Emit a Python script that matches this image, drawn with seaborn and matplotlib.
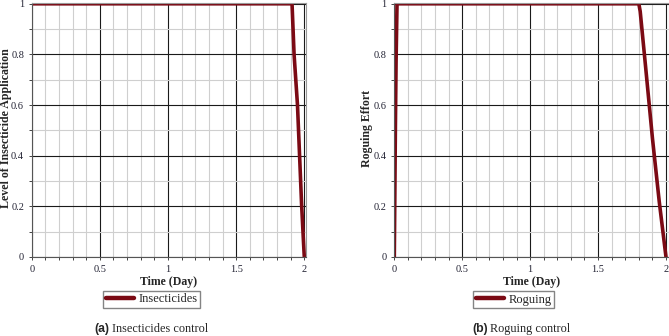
import numpy as np
import pandas as pd
import matplotlib
matplotlib.use("Agg")
import matplotlib.pyplot as plt
from matplotlib.ticker import MultipleLocator
import seaborn as sns

# Data
t_ins = [0.0, 0.5, 1.0, 1.5, 1.91, 1.925, 1.95, 1.98, 1.995, 2.0]
u_ins = [1.0, 1.0, 1.0, 1.0, 1.0, 0.8, 0.6, 0.21, 0.05, 0.0]
t_rog = [0.0, 0.004, 0.008, 0.013, 0.02, 0.5, 1.0, 1.5, 1.8, 1.81, 1.85, 1.9, 1.95, 2.0]
u_rog = [0.0, 0.25, 0.51, 0.77, 1.0, 1.0, 1.0, 1.0, 1.0, 0.97, 0.75, 0.47, 0.22, 0.0]

xticks = [0, 0.5, 1, 1.5, 2]
xtick_labels = ["0", "0.5", "1", "1.5", "2"]
yticks = [0, 0.2, 0.4, 0.6, 0.8, 1.0]
ytick_labels = ["0", "0.2", "0.4", "0.6", "0.8", "1"]

panels = [
    dict(t=t_ins, u=u_ins, name="Insecticides", ylabel="Level of Insecticide Application",
         tag="(a)", caption="Insecticides control"),
    dict(t=t_rog, u=u_rog, name="Roguing", ylabel="Roguing Effort",
         tag="(b)", caption="Roguing control"),
]

sns.set_theme(style="white")
plt.rcParams["font.family"] = ["Liberation Serif", "DejaVu Serif"]

W, H = 669, 336
fig = plt.figure(figsize=(W / 100, H / 100), dpi=100)

layouts = [
    dict(x0=31.7, x2=304.3, x1=306.0, ytop=3.0, ybot=257.0, leg=(151.5, 299.5), cap_x=111.5, ylab_x=6),
    dict(x0=394.3, x2=666.0, x1=669.0, ytop=3.0, ybot=257.0, leg=(513.5, 299.5), cap_x=490, ylab_x=367),
]

color = "#7b0a14"
for p, L in zip(panels, layouts):
    ax = fig.add_axes([L["x0"] / W, 1 - L["ybot"] / H, (L["x1"] - L["x0"]) / W, (L["ybot"] - L["ytop"]) / H])
    df = pd.DataFrame({"t": p["t"], "u": p["u"], "series": p["name"]})
    sns.lineplot(data=df, x="t", y="u", hue="series", palette=[color], ax=ax,
                 linewidth=2.6, legend=True, solid_joinstyle="miter")
    ax.set_xlim(0, 2.0 * (L["x1"] - L["x0"]) / (L["x2"] - L["x0"]))
    ax.set_ylim(0, 1.003)
    ax.set_xticks(xticks)
    ax.set_xticklabels(xtick_labels)
    ax.set_yticks(yticks)
    ax.set_yticklabels(ytick_labels)
    ax.xaxis.set_minor_locator(MultipleLocator(0.1))
    ax.yaxis.set_minor_locator(MultipleLocator(0.1))
    ax.grid(True, which="minor", color="#cfcfcf", linewidth=0.8)
    ax.grid(True, which="major", color="#1a1a1a", linewidth=0.8)
    ax.set_axisbelow(True)
    ax.tick_params(which="both", direction="out", length=2.5, width=0.7, color="#444444",
                   bottom=True, left=True, top=False, right=False, labelsize=7.5, pad=3,
                   labelcolor="#222233")
    ax.tick_params(which="minor", length=2)
    for s in ["top", "right"]:
        ax.spines[s].set_color("#999999")
        ax.spines[s].set_linewidth(0.8)
    for s in ["left", "bottom"]:
        ax.spines[s].set_color("#555555")
        ax.spines[s].set_linewidth(0.8)
    ax.set_xlabel("Time (Day)", fontsize=8.5, fontweight="bold", labelpad=2)
    ax.set_ylabel("")
    fig.text(L["ylab_x"] / W, 1 - 128 / H, p["ylabel"], rotation=90, ha="center", va="center",
             fontsize=8.6, fontweight="bold")
    h, l = ax.get_legend_handles_labels()
    ax.legend(h, l, loc="center", bbox_to_anchor=(L["leg"][0] / W, 1 - L["leg"][1] / H),
              bbox_transform=fig.transFigure, fontsize=9, frameon=True, fancybox=False,
              edgecolor="#666666", handlelength=2.3, handletextpad=0.3, borderpad=0.2,
              borderaxespad=0)
    for line in ax.get_legend().get_lines():
        line.set_linewidth(3.2)
    fig.text((L["cap_x"] - 2) / W, 1 - 329 / H, p["tag"], ha="right", va="center",
             fontsize=8.8, fontweight="bold", family=["Liberation Sans", "DejaVu Sans"])
    fig.text(L["cap_x"] / W, 1 - 329 / H, p["caption"], ha="left", va="center",
             fontsize=8.8)

fig.savefig("out.png", dpi=100)
